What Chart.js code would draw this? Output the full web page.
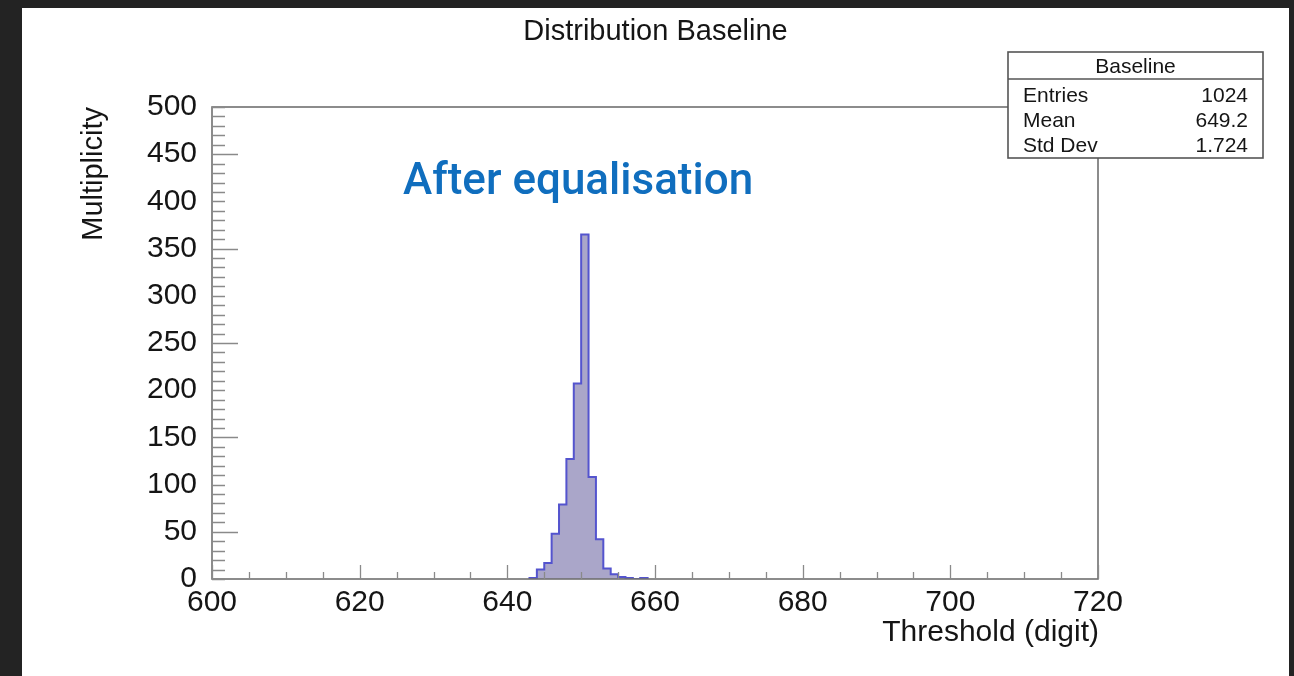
<!DOCTYPE html>
<html>
<head>
<meta charset="utf-8">
<script src="https://cdn.jsdelivr.net/npm/chart.js@4.4.1/dist/chart.umd.min.js"></script>
<style>
  html, body { margin: 0; padding: 0; background: #232323; width: 1294px; height: 676px; overflow: hidden; }
  #pad { position: absolute; left: 22px; top: 8px; width: 1267px; height: 668px; background: #ffffff; }
  canvas { display: block; }
</style>
</head>
<body>
<div id="pad"><canvas id="c" width="1267" height="668"></canvas></div>
<script>
// Baseline threshold histogram: 1-digit bins, low edge -> entries
const binLowEdges = [643, 644, 645, 646, 647, 648, 649, 650, 651, 652, 653, 654, 655, 656, 657, 658];
const binCounts   = [1,   10,  17,  48,  79,  127, 207, 365, 108, 42,  11,  5,   2,   1,   0,   1];

const xTickValues = [600, 620, 640, 660, 680, 700, 720];
const yTickValues = [0, 50, 100, 150, 200, 250, 300, 350, 400, 450, 500];

const histTitle   = 'Distribution Baseline';
const xAxisTitle  = 'Threshold (digit)';
const yAxisTitle  = 'Multiplicity';
const statsName   = 'Baseline';
const statsLabels = ['Entries', 'Mean', 'Std Dev'];
const statsValues = ['1024', '649.2', '1.724'];
const noteText    = 'After equalisation';

// Outline points for a stepped histogram: rise at first edge, fall after last bin
const histPoints = [{ x: binLowEdges[0], y: 0 }]
  .concat(binLowEdges.map((e, i) => ({ x: e, y: binCounts[i] })))
  .concat([{ x: binLowEdges[binLowEdges.length - 1] + 1, y: 0 }]);

const FONT = "'Liberation Sans', Arial, Helvetica, sans-serif";

// Frame, inward ROOT-style ticks, titles, stats box and note
const rootDecor = {
  id: 'rootDecor',
  afterDatasetsDraw(chart) {
    const { ctx, chartArea: a, scales: { x, y } } = chart;
    ctx.save();

    // frame
    ctx.strokeStyle = '#707070';
    ctx.lineWidth = 1.6;
    ctx.strokeRect(a.left, a.top, a.right - a.left, a.bottom - a.top);

    // x ticks: major every 20, minor every 5
    ctx.beginPath();
    for (let v = x.min; v <= x.max; v += 5) {
      const px = Math.round(x.getPixelForValue(v)) + 0.5;
      const len = (v % 20 === 0) ? 14 : 7;
      ctx.moveTo(px, a.bottom);
      ctx.lineTo(px, a.bottom - len);
    }
    // y ticks every 10
    for (let v = y.min; v <= y.max; v += 10) {
      const py = Math.round(y.getPixelForValue(v)) + 0.5;
      const len = (v % 100 === 50) ? 26 : 13;
      ctx.moveTo(a.left, py);
      ctx.lineTo(a.left + len, py);
    }
    ctx.strokeStyle = '#8a8a8a';
    ctx.lineWidth = 1.3;
    ctx.stroke();

    // titles
    ctx.fillStyle = '#151515';
    ctx.font = '29px ' + FONT;
    ctx.textAlign = 'center';
    ctx.textBaseline = 'alphabetic';
    ctx.fillText(histTitle, chart.width / 2, 32);

    ctx.font = '30px ' + FONT;
    ctx.textAlign = 'right';
    ctx.fillText(xAxisTitle, a.right + 1, 633);

    ctx.save();
    ctx.translate(80, a.top);
    ctx.rotate(-Math.PI / 2);
    ctx.font = '29px ' + FONT;
    ctx.textAlign = 'right';
    ctx.fillText(yAxisTitle, 0, 0);
    ctx.restore();

    // stats box
    const bx = 986, by = 44, bw = 255, bh = 106, bdiv = 71;
    ctx.fillStyle = '#ffffff';
    ctx.fillRect(bx, by, bw, bh);
    ctx.strokeStyle = '#555555';
    ctx.lineWidth = 1.6;
    ctx.strokeRect(bx, by, bw, bh);
    ctx.beginPath();
    ctx.moveTo(bx, bdiv);
    ctx.lineTo(bx + bw, bdiv);
    ctx.stroke();

    ctx.fillStyle = '#151515';
    ctx.font = '21px ' + FONT;
    ctx.textAlign = 'center';
    ctx.fillText(statsName, bx + bw / 2, 65);
    const rowY = [94, 119, 144];
    statsLabels.forEach((lab, i) => {
      ctx.textAlign = 'left';
      ctx.fillText(lab, bx + 15, rowY[i]);
      ctx.textAlign = 'right';
      ctx.fillText(statsValues[i], bx + bw - 15, rowY[i]);
    });

    // annotation
    ctx.fillStyle = '#106ebe';
    ctx.font = "500 44px Roboto, 'Noto Sans', sans-serif";
    ctx.textAlign = 'left';
    ctx.fillText(noteText, 381, 186);

    ctx.restore();
  }
};

new Chart(document.getElementById('c'), {
  type: 'line',
  data: {
    datasets: [{
      data: histPoints,
      stepped: 'before',
      fill: 'origin',
      backgroundColor: 'rgb(170, 166, 201)',
      borderColor: 'rgb(84, 84, 206)',
      borderWidth: 2,
      pointRadius: 0,
      borderJoinStyle: 'miter'
    }]
  },
  options: {
    responsive: false,
    animation: false,
    events: [],
    layout: { padding: { top: 99, right: 191, left: 0, bottom: 0 } },
    plugins: { legend: { display: false }, tooltip: { enabled: false }, title: { display: false } },
    scales: {
      x: {
        type: 'linear',
        min: 600,
        max: 720,
        afterBuildTicks: s => { s.ticks = xTickValues.map(v => ({ value: v })); },
        afterFit: s => { s.height = 97; },
        grid: { display: false },
        border: { display: false },
        ticks: { color: '#151515', font: { family: FONT, size: 30 }, padding: -2, maxRotation: 0, autoSkip: false }
      },
      y: {
        type: 'linear',
        min: 0,
        max: 500,
        afterBuildTicks: s => { s.ticks = yTickValues.map(v => ({ value: v })); },
        afterFit: s => { s.width = 190; },
        grid: { display: false },
        border: { display: false },
        ticks: { color: '#151515', font: { family: FONT, size: 30 }, padding: 7, autoSkip: false }
      }
    }
  },
  plugins: [rootDecor]
});
</script>
</body>
</html>
